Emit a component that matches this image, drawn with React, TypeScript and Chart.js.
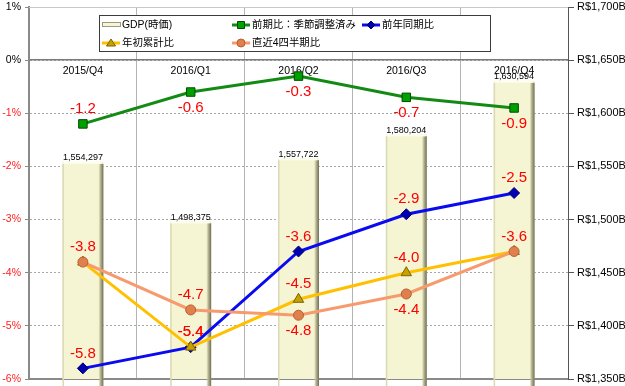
import { useEffect, useRef } from 'react';
import { Chart, registerables } from 'chart.js';

Chart.register(...registerables);

const categories = ['2015/Q4', '2016/Q1', '2016/Q2', '2016/Q3', '2016/Q4'];
const gdpNominal = [1554297, 1498375, 1557722, 1580204, 1630594];
const qoqSeasonal = [-1.2, -0.6, -0.3, -0.7, -0.9];
const yoy = [-5.8, -5.4, -3.6, -2.9, -2.5];
const ytd = [-3.8, -5.4, -4.5, -4.0, -3.6];
const last4q = [-3.8, -4.7, -4.8, -4.4, -3.6];
const leftTicks = { min: -6, max: 1, step: 1 };
const rightTicks = { min: 1350, max: 1700, step: 50 };

const FONT = "'Liberation Sans', Arial, 'Noto Sans CJK JP', sans-serif";
const JFONT = "'Liberation Sans', 'Noto Sans CJK JP', sans-serif";

const barLabelPlugin = {
  id: 'barDeco',
  afterDatasetDraw(chart: any, args: any) {
    if (args.index !== 0) return;
    const ctx = chart.ctx;
    const meta = chart.getDatasetMeta(0);
    ctx.save();
    meta.data.forEach((el: any, i: number) => {
      const { x, y, width, base } = el.getProps(['x', 'y', 'width', 'base'], true);
      const l = x - width / 2;
      const r = x + width / 2;
      const g = ctx.createLinearGradient(r - 5, 0, r, 0);
      g.addColorStop(0, 'rgba(200,199,160,0)');
      g.addColorStop(0.4, '#B9B891');
      g.addColorStop(1, '#6E6E58');
      ctx.fillStyle = g;
      ctx.fillRect(r - 5, y + 2, 5, base - y - 2);
      ctx.fillStyle = '#DAD9B4';
      ctx.fillRect(l, y + 2, 1.5, base - y - 2);
      ctx.fillStyle = '#FDFDF0';
      ctx.fillRect(l + 1, y, width - 3, 2);
      ctx.fillStyle = '#000000';
      ctx.font = `9px ${FONT}`;
      ctx.textAlign = 'center';
      ctx.textBaseline = 'middle';
      ctx.fillText(gdpNominal[i].toLocaleString('en-US'), x, y - 4);
    });
    ctx.restore();
  },
};

const frameDataLabels = {
  id: 'frameLabels',
  beforeDatasetsDraw(chart: any) {
    const { ctx, chartArea: a } = chart;
    ctx.save();
    ctx.strokeStyle = '#C8C8C8';
    ctx.lineWidth = 1;
    ctx.beginPath();
    ctx.moveTo(a.left, a.top + 0.5);
    ctx.lineTo(a.right, a.top + 0.5);
    ctx.stroke();
    ctx.strokeStyle = '#8A8A8A';
    ctx.lineWidth = 2;
    ctx.beginPath();
    ctx.moveTo(a.left, a.bottom);
    ctx.lineTo(a.right, a.bottom);
    ctx.stroke();
    ctx.restore();
  },
  afterDatasetsDraw(chart: any) {
    const ctx = chart.ctx;
    ctx.save();
    ctx.font = `15px ${FONT}`;
    ctx.fillStyle = '#FF0000';
    ctx.textAlign = 'center';
    ctx.textBaseline = 'middle';
    chart.data.datasets.forEach((ds: any, di: number) => {
      if (!ds.labelPos) return;
      const meta = chart.getDatasetMeta(di);
      meta.data.forEach((el: any, i: number) => {
        const pos = ds.labelPos[i];
        if (pos === 'none') return;
        const dy = pos === 'above' ? -15 : 16;
        ctx.fillText(ds.data[i].toFixed(1), el.x, el.y + dy);
      });
    });
    ctx.restore();
  },
};

const legendPlugin = {
  id: 'customLegend',
  afterDraw(chart: any) {
    const ctx = chart.ctx;
    ctx.save();
    const bx = 99.5, by = 15.5, bw = 391, bh = 36;
    ctx.fillStyle = '#FFFFFF';
    ctx.fillRect(bx, by, bw, bh);
    ctx.strokeStyle = '#3C3C3C';
    ctx.lineWidth = 1;
    ctx.strokeRect(bx, by, bw, bh);
    ctx.font = `10.4px ${JFONT}`;
    ctx.textBaseline = 'middle';
    ctx.textAlign = 'left';
    const items = [
      { label: 'GDP(時価)', x: 102, y: 25, kind: 'bar' },
      { label: '前期比：季節調整済み', x: 232, y: 25, kind: 'line', color: '#138A13', fill: '#00A000', stroke: '#004A00', shape: 'rect' },
      { label: '前年同期比', x: 362, y: 25, kind: 'line', color: '#0A0AF0', fill: '#0000B0', stroke: '#000070', shape: 'diamond' },
      { label: '年初累計比', x: 102, y: 43, kind: 'line', color: '#FFC000', fill: '#C8A000', stroke: '#7A6400', shape: 'triangle' },
      { label: '直近4四半期比', x: 232, y: 43, kind: 'line', color: '#F79A6E', fill: '#E0804F', stroke: '#B8602F', shape: 'circle' },
    ];
    items.forEach((it: any) => {
      const cx = it.x + 9;
      if (it.kind === 'bar') {
        ctx.fillStyle = '#F6F5D3';
        ctx.strokeStyle = '#9A9A80';
        ctx.fillRect(it.x, it.y - 2, 18, 4);
        ctx.strokeRect(it.x + 0.5, it.y - 2.5, 18, 4);
      } else {
        ctx.strokeStyle = it.color;
        ctx.lineWidth = 3;
        ctx.beginPath();
        ctx.moveTo(it.x, it.y);
        ctx.lineTo(it.x + 18, it.y);
        ctx.stroke();
        ctx.lineWidth = 1;
        ctx.fillStyle = it.fill;
        ctx.strokeStyle = it.stroke;
        ctx.beginPath();
        if (it.shape === 'rect') ctx.rect(cx - 3.5, it.y - 3.5, 7, 7);
        else if (it.shape === 'diamond') { ctx.moveTo(cx, it.y - 4); ctx.lineTo(cx + 4, it.y); ctx.lineTo(cx, it.y + 4); ctx.lineTo(cx - 4, it.y); ctx.closePath(); }
        else if (it.shape === 'triangle') { ctx.moveTo(cx, it.y - 4); ctx.lineTo(cx + 4.5, it.y + 3); ctx.lineTo(cx - 4.5, it.y + 3); ctx.closePath(); }
        else ctx.arc(cx, it.y, 4, 0, Math.PI * 2);
        ctx.fill();
        ctx.stroke();
      }
      ctx.fillStyle = '#000000';
      ctx.fillText(it.label, it.x + 20, it.y + 0.5);
    });
    ctx.restore();
  },
};

export default function App() {
  const ref = useRef<HTMLCanvasElement | null>(null);
  useEffect(() => {
    if (!ref.current) return;
    const lineDs = (label: string, data: number[], color: string, fill: string, stroke: string, style: string, radius: number, order: number, labelPos: string[]) => ({
      type: 'line' as const,
      label,
      data,
      yAxisID: 'y',
      borderColor: color,
      borderWidth: 3,
      pointStyle: style,
      pointRadius: radius,
      pointBackgroundColor: fill,
      pointBorderColor: stroke,
      pointBorderWidth: 1,
      tension: 0,
      order,
      labelPos,
    });
    const chart = new Chart(ref.current, {
      type: 'bar',
      data: {
        labels: categories,
        datasets: [
          {
            type: 'bar',
            label: 'GDP(時価)',
            data: gdpNominal.map((v) => v / 1000),
            yAxisID: 'y1',
            backgroundColor: '#F6F5D3',
            borderWidth: 0,
            barPercentage: 0.38,
            categoryPercentage: 1,
            order: 10,
          } as any,
          lineDs('前期比：季節調整済み', qoqSeasonal, '#138A13', '#00A000', '#004A00', 'rect', 6, 4, ['above', 'below', 'below', 'below', 'below']),
          lineDs('前年同期比', yoy, '#0A0AF0', '#0000B0', '#000070', 'rectRot', 5.5, 3, ['above', 'above', 'above', 'above', 'above']),
          lineDs('年初累計比', ytd, '#FFC000', '#C8A000', '#7A6400', 'triangle', 6, 2, ['none', 'above', 'above', 'above', 'none']),
          lineDs('直近4四半期比', last4q, '#F79A6E', '#E0804F', '#B8602F', 'circle', 5, 1, ['above', 'above', 'below', 'below', 'above']),
        ],
      },
      options: {
        animation: false,
        responsive: false,
        maintainAspectRatio: false,
        layout: { padding: { top: 5, bottom: 6, left: 0, right: 0 } },
        plugins: { legend: { display: false }, tooltip: { enabled: false } },
        scales: {
          x: {
            position: { y: 0 } as any,
            offset: true,
            grid: { offset: true, color: '#B4B4B4', lineWidth: 1, drawTicks: false },
            border: { color: '#7A7A7A', width: 1.5 },
            ticks: { color: '#000000', font: { family: FONT, size: 10.5 }, padding: 5 },
          },
          y: {
            position: 'left',
            min: leftTicks.min,
            max: leftTicks.max,
            ticks: {
              stepSize: leftTicks.step,
              color: (c: any) => (c.tick && c.tick.value < 0 ? '#FF2020' : '#000000'),
              font: { family: FONT, size: 10.5 },
              padding: 4,
              callback: (v: any) => `${v}%`,
            },
            grid: { color: '#A8A8A8', lineWidth: 1, tickLength: 4, tickColor: '#8A8A8A' },
            border: { color: '#8A8A8A', width: 2, dash: [2, 2] },
            afterFit: (s: any) => { s.width = 29; s.paddingTop = 0; s.paddingBottom = 0; },
          },
          y1: {
            position: 'right',
            min: rightTicks.min,
            max: rightTicks.max,
            ticks: {
              stepSize: rightTicks.step,
              color: '#000000',
              font: { family: FONT, size: 11 },
              padding: 3,
              callback: (v: any) => `R$${Number(v).toLocaleString('en-US')}B`,
            },
            grid: { drawOnChartArea: false, tickLength: 6, tickColor: '#555555' },
            border: { color: '#555555', width: 1 },
            afterFit: (s: any) => { s.width = 57; s.paddingTop = 0; s.paddingBottom = 0; },
          },
        },
      },
      plugins: [barLabelPlugin, frameDataLabels, legendPlugin],
    } as any);
    return () => chart.destroy();
  }, []);
  return (
    <div style={{ position: 'fixed', left: 0, top: 0, width: 625, height: 386, background: '#FFFFFF' }}>
      <canvas ref={ref} width={625} height={386} style={{ width: 625, height: 386 }} />
    </div>
  );
}
